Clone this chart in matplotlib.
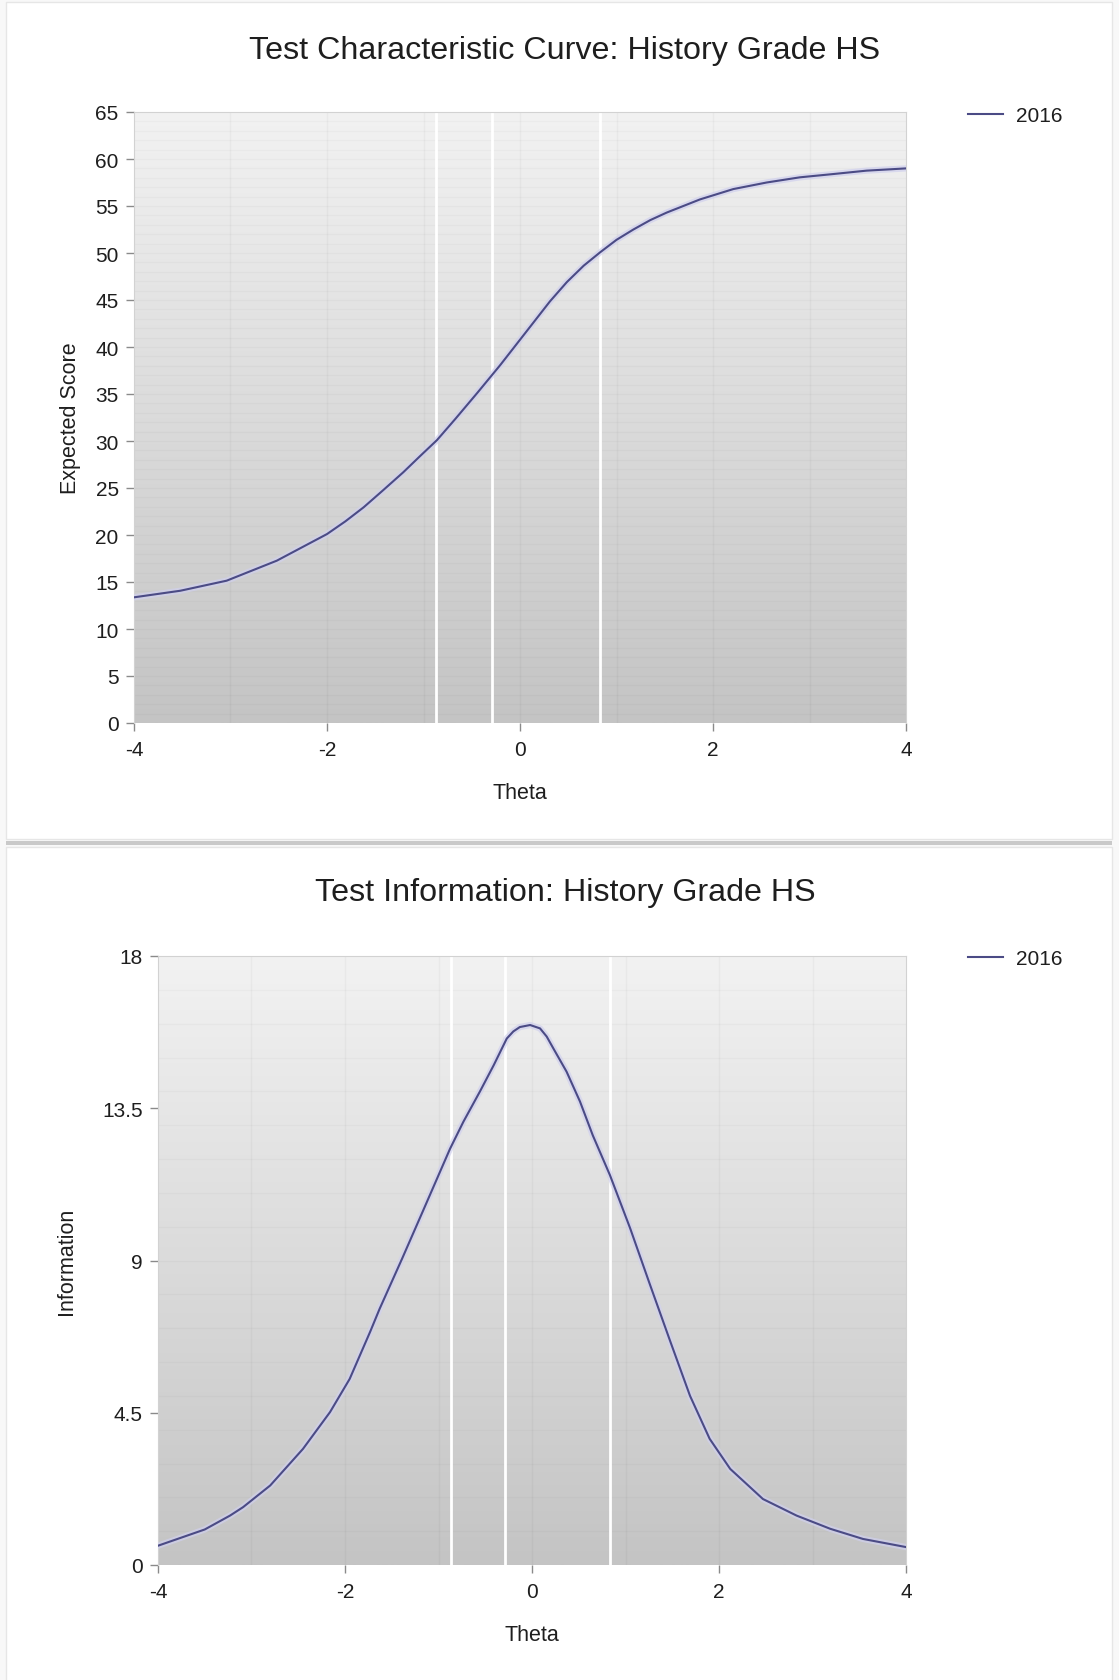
import numpy as np
import matplotlib.pyplot as plt
from matplotlib.colors import LinearSegmentedColormap
from matplotlib.patches import Rectangle

plt.rcParams['font.family'] = ['Liberation Sans', 'DejaVu Sans']

# theta and expected score (test characteristic curve)
tcc_theta = [-4, -3.52, -3.04, -2.52, -2.0, -1.81, -1.62, -1.42, -1.21, -1.04, -0.86,
             -0.67, -0.44, -0.207, 0.139, 0.31, 0.485, 0.66, 0.83, 1.0, 1.175, 1.35,
             1.52, 1.865, 2.21, 2.556, 2.9, 3.246, 3.59, 4]
tcc_score = [13.37, 14.07, 15.14, 17.27, 20.1, 21.45, 22.95, 24.75, 26.67, 28.35, 30.1,
             32.35, 35.15, 38.05, 42.6, 44.85, 46.9, 48.65, 50.07, 51.4, 52.5, 53.5,
             54.3, 55.7, 56.8, 57.5, 58.05, 58.4, 58.76, 59.0]

# theta and test information
info_theta = [-4, -3.5, -3.23, -3.09, -2.8, -2.45, -2.16, -1.95, -1.73, -1.63, -1.39,
              -1.17, -0.877, -0.734, -0.556, -0.41, -0.27, -0.2, -0.13, -0.02, 0.086,
              0.157, 0.228, 0.37, 0.513, 0.65, 0.834, 1.05, 1.26, 1.48, 1.69, 1.9,
              2.12, 2.47, 2.83, 3.19, 3.54, 4]
info_value = [0.57, 1.05, 1.46, 1.71, 2.35, 3.43, 4.52, 5.5, 6.9, 7.57, 9.05,
              10.44, 12.3, 13.1, 14.0, 14.77, 15.56, 15.77, 15.9, 15.96, 15.86,
              15.62, 15.27, 14.58, 13.7, 12.7, 11.52, 9.95, 8.3, 6.6, 5.0, 3.73,
              2.84, 1.95, 1.46, 1.07, 0.77, 0.53]

# cut scores on the theta scale
cut_scores = [-0.87, -0.29, 0.83]

series_name = '2016'
subject = 'History Grade HS'

W, H = 1119, 1681
fig = plt.figure(figsize=(W / 100, H / 100), dpi=100)
fig.patch.set_facecolor('#f8f8f8')

def px(x0, y0, x1, y1):
    # pixel box (from top-left) -> figure fraction rect
    return [x0 / W, 1 - y1 / H, (x1 - x0) / W, (y1 - y0) / H]

# cards behind the charts
r = px(6, 842, 1112, 846)
fig.patches.append(Rectangle((r[0], r[1]), r[2], r[3], transform=fig.transFigure,
                             facecolor='#c9c9c9', edgecolor='none', zorder=-10))
for box in [(6, 3, 1112, 840), (6, 848, 1112, 1690)]:
    r = px(*box)
    fig.patches.append(Rectangle((r[0], r[1]), r[2], r[3], transform=fig.transFigure,
                                 facecolor='white', edgecolor='#e6e6e6', lw=1, zorder=-10))

bg = LinearSegmentedColormap.from_list('bg', ['#c4c4c4', '#f2f2f2'])
line_col = '#4b4b85'
halo_col = '#d0d0ee'
txt_col = '#1e1e1e'


def style_axes(ax, ymax, yticks, ylabels):
    ax.set_zorder(5)
    ax.imshow(np.linspace(0, 1, 256).reshape(-1, 1), cmap=bg, origin='lower',
              extent=[-4, 4, 0, ymax], aspect='auto', zorder=0)
    ax.set_xlim(-4, 4)
    ax.set_ylim(0, ymax)
    for v in range(-3, 4):
        ax.axvline(v, color='black', alpha=0.03, lw=1, zorder=1)
    for v in range(1, int(ymax)):
        ax.axhline(v, color='black', alpha=0.025, lw=1, zorder=1)
    for c in cut_scores:
        ax.axvline(c, color='white', lw=2, zorder=2)
    ax.set_xticks([-4, -2, 0, 2, 4])
    ax.set_xticklabels(['-4', '-2', '0', '2', '4'])
    ax.set_yticks(yticks)
    ax.set_yticklabels(ylabels)
    ax.tick_params(axis='both', colors='#8a8a8a', labelcolor=txt_col, labelsize=15,
                   length=6, width=1)
    ax.tick_params(axis='x', pad=6)
    ax.tick_params(axis='y', pad=5)
    for s in ['top', 'right', 'left']:
        ax.spines[s].set_color('#d2d2d2')
    ax.spines['bottom'].set_visible(False)


def draw_curve(ax, x, y):
    ax.plot(x, y, color=halo_col, lw=4.5, alpha=0.7, zorder=3, solid_joinstyle='round')
    ax.plot(x, y, color=line_col, lw=1.5, zorder=4, label=series_name,
            solid_joinstyle='round')


def add_legend(ax, y_px):
    ax.legend(loc='center left', bbox_to_anchor=(949 / W, 1 - y_px / H),
              bbox_transform=fig.transFigure, frameon=False, fontsize=15,
              handlelength=1.68, handletextpad=0.65, labelcolor=txt_col)


# test characteristic curve
ax1 = fig.add_axes(px(134, 113, 906, 724))
style_axes(ax1, 65, list(range(0, 66, 5)), [str(v) for v in range(0, 66, 5)])
draw_curve(ax1, tcc_theta, tcc_score)
ax1.set_xlabel('Theta', fontsize=15.5, color=txt_col, labelpad=17)
ax1.set_ylabel('Expected Score', fontsize=15.5, color=txt_col, labelpad=10)
fig.text(565 / W, 1 - 51 / H, 'Test Characteristic Curve: ' + subject,
         ha='center', va='center', fontsize=23.2, color=txt_col)
add_legend(ax1, 117)

# test information curve
ax2 = fig.add_axes(px(158, 957, 906, 1566))
style_axes(ax2, 18, [0, 4.5, 9, 13.5, 18], ['0', '4.5', '9', '13.5', '18'])
draw_curve(ax2, info_theta, info_value)
ax2.set_xlabel('Theta', fontsize=15.5, color=txt_col, labelpad=17)
ax2.set_ylabel('Information', fontsize=15.5, color=txt_col, labelpad=18)
fig.text(565 / W, 1 - 893 / H, 'Test Information: ' + subject,
         ha='center', va='center', fontsize=23.2, color=txt_col)
add_legend(ax2, 960)

fig.savefig('out.png', dpi=100, facecolor=fig.get_facecolor())
